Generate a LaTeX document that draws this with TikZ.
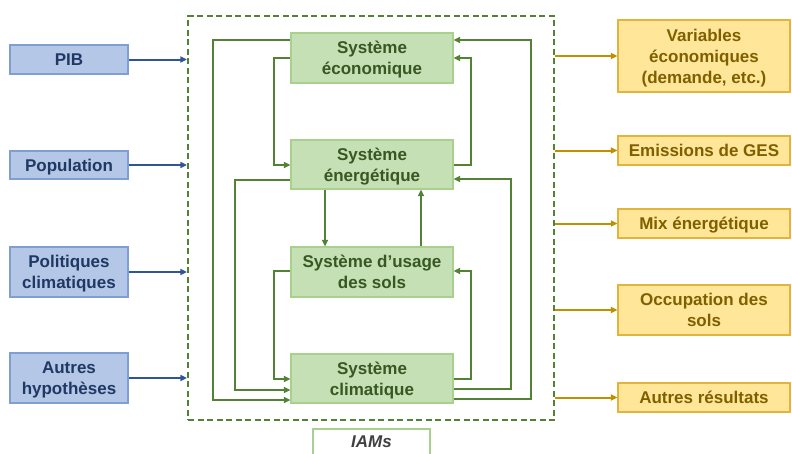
\documentclass[tikz,border=0pt]{standalone}
\usepackage{fontspec}
\setmainfont{Liberation Sans}
\usetikzlibrary{arrows.meta}
\definecolor{bfill}{HTML}{B4C7E7}
\definecolor{bline}{HTML}{7F9FD4}
\definecolor{btext}{HTML}{1F3864}
\definecolor{barr}{HTML}{2F5597}
\definecolor{gfill}{HTML}{C5E0B4}
\definecolor{gline}{HTML}{A9D18E}
\definecolor{gtext}{HTML}{385723}
\definecolor{garrc}{HTML}{548235}
\definecolor{ofill}{HTML}{FFE699}
\definecolor{oline}{HTML}{E2B43C}
\definecolor{otext}{HTML}{7F6000}
\definecolor{oarr}{HTML}{BF9000}
\begin{document}
\begin{tikzpicture}[x=1pt,y=-1pt,
  box/.style={draw, line width=1.2pt, inner sep=0pt, align=center, text depth=0pt,
    font=\bfseries\fontsize{17}{21}\selectfont},
  inbox/.style={box, fill=bfill, draw=bline, text=btext, minimum width=118pt},
  sysbox/.style={box, fill=gfill, draw=gline, text=gtext, minimum width=162pt},
  outbox/.style={box, fill=ofill, draw=oline, text=otext, minimum width=172pt},
  tip/.style={-{Triangle[length=6.5pt,width=6pt]}},
  barrow/.style={draw=barr, line width=2pt, tip},
  oarrow/.style={draw=oarr, line width=2pt, tip},
  garrow/.style={draw=garrc, line width=2pt, tip},
  dashbox/.style={draw=garrc, line width=2.2pt, dash pattern=on 6pt off 3.5pt, inner sep=0pt}
]
\useasboundingbox (0,0) rectangle (792,453);

% dashed IAM box
\node[dashbox, minimum width=366pt, minimum height=404pt] (iam) at (371,218) {};
\node[draw=gline, line width=1.2pt, minimum width=117pt, minimum height=34pt, inner sep=0pt] (lab) at (371.5,446) {};
\node[text=black!75, font=\bfseries\itshape\fontsize{17}{21}\selectfont, inner sep=0pt] (labt) at (371.5,441.5) {IAMs};

% inputs
\node[inbox, minimum height=29pt] (pib) at (69,59.5) {PIB};
\node[inbox, minimum height=28pt] (pop) at (69,165) {Population};
\node[inbox, minimum height=50pt] (pol) at (69,272) {Politiques\\climatiques};
\node[inbox, minimum height=50pt] (hyp) at (69,378) {Autres\\hypothèses};
\foreach \n in {pib,pop,pol,hyp}
  \draw[barrow] (\n.east) -- (\n.east -| iam.west);

% outputs
\node[outbox, minimum height=72pt] (var) at (704,56) {Variables\\économiques\\(demande, etc.)};
\node[outbox, minimum height=29pt] (ges) at (704,150.5) {Emissions de GES};
\node[outbox, minimum height=29pt] (mix) at (704,223.5) {Mix énergétique};
\node[outbox, minimum height=50pt] (occ) at (704,310) {Occupation des\\sols};
\node[outbox, minimum height=29pt] (res) at (704,397.5) {Autres résultats};
\foreach \n in {var,ges,mix,occ,res}
  \draw[oarrow] (iam.east |- \n.west) -- (\n.west);

% systems
\node[sysbox, minimum height=50pt] (eco) at (372,58) {Système\\économique};
\node[sysbox, minimum height=49pt] (ene) at (372,164.5) {Système\\énergétique};
\node[sysbox, minimum height=50pt] (sol) at (372,272) {Système d’usage\\des sols};
\node[sysbox, minimum height=49pt] (cli) at (372,378.5) {Système\\climatique};

% left loops
\draw[garrow] (eco.west |- 0,40) -- (213,40) -- (213,400) -- (cli.west |- 0,400);
\draw[garrow] (eco.west |- 0,58) -- (274,58) -- (274,165) -- (ene.west |- 0,165);
\draw[garrow] (ene.west |- 0,180) -- (235,180) -- (235,390) -- (cli.west |- 0,390);
\draw[garrow] (sol.west |- 0,271) -- (274,271) -- (274,379) -- (cli.west |- 0,379);
% right loops
\draw[garrow] (cli.east |- 0,379) -- (471,379) -- (471,271) -- (sol.east |- 0,271);
\draw[garrow] (ene.east |- 0,165) -- (471,165) -- (471,58) -- (eco.east |- 0,58);
\draw[garrow] (cli.east |- 0,389) -- (511,389) -- (511,179) -- (ene.east |- 0,179);
\draw[garrow] (cli.east |- 0,399) -- (531,399) -- (531,40) -- (eco.east |- 0,40);
% vertical links
\draw[garrow] (ene.south -| 325,0) -- (sol.north -| 325,0);
\draw[garrow] (sol.north -| 421,0) -- (ene.south -| 421,0);
\end{tikzpicture}
\end{document}
